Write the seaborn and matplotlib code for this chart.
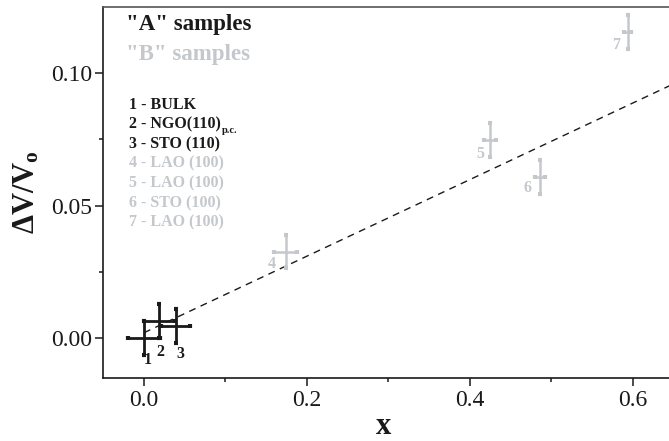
import matplotlib
matplotlib.use("Agg")
import matplotlib.pyplot as plt
import seaborn as sns
import pandas as pd

# Sample data: strain x and relative volume change with uncertainties
labels = ["1", "2", "3", "4", "5", "6", "7"]
groups = ["A", "A", "A", "B", "B", "B", "B"]
x_vals = [0.000, 0.019, 0.039, 0.174, 0.4245, 0.486, 0.5935]
y_vals = [0.0000, 0.0063, 0.0045, 0.0326, 0.0749, 0.0608, 0.1155]
x_err = [0.020, 0.019, 0.018, 0.014, 0.0078, 0.006, 0.004]
y_err = [0.0063, 0.0064, 0.0065, 0.0063, 0.0064, 0.0064, 0.0065]
substrates = ["BULK", "NGO(110)", "STO (110)",
              "LAO (100)", "LAO (100)", "STO (100)", "LAO (100)"]
substrate_sub = ["", "p.c.", "", "", "", "", ""]

# Linear trend line endpoints
fit_x = [0.0, 0.65]
fit_y = [0.002, 0.096]

x_ticks = [0.0, 0.2, 0.4, 0.6]
y_ticks = [0.00, 0.05, 0.10]

# label offsets (points) relative to each sample
label_dx = [3, 1, 3, -10, -7, -9, -8]
label_dy = [-16, -22, -20, -9, -10, -8, -9]

df = pd.DataFrame({"label": labels, "group": groups, "x": x_vals, "y": y_vals,
                   "xerr": x_err, "yerr": y_err})

sns.set_theme(style="ticks")
plt.rcParams["font.family"] = ["Liberation Serif", "DejaVu Serif"]
plt.rcParams["mathtext.fontset"] = "custom"
plt.rcParams["mathtext.rm"] = "Liberation Serif"
plt.rcParams["mathtext.bf"] = "Liberation Serif:bold"
plt.rcParams["mathtext.it"] = "Liberation Serif:italic"

BLACK = "#1a1a1a"
GRAY = "#c4c8cd"
colors = {"A": BLACK, "B": GRAY}

fig = plt.figure(figsize=(6.69, 4.41), dpi=100)
ax = fig.add_axes([103 / 669, 1 - 378 / 441, 1 - 103 / 669, (378 - 7) / 441])

sns.lineplot(x=fit_x, y=fit_y, ax=ax, color=BLACK, lw=1.0,
             linestyle=(0, (5, 4)), zorder=1)

for _, r in df.iterrows():
    c = colors[r["group"]]
    lw = 2.0 if r["group"] == "A" else 1.8
    ax.errorbar(r["x"], r["y"], xerr=r["xerr"], yerr=r["yerr"], fmt="none",
                ecolor=c, elinewidth=lw, capsize=1.2, capthick=3.0, zorder=3)

for i, r in df.iterrows():
    ax.annotate(r["label"], (r["x"], r["y"]), xytext=(label_dx[i], label_dy[i]),
                textcoords="offset points", ha="center", va="center",
                fontsize=11.5, fontweight="bold", color=colors[r["group"]])

ax.set_xlim(-0.0503, 0.6442)
ax.set_ylim(-0.0151, 0.1250)
ax.set_xticks(x_ticks)
ax.set_xticklabels([f"{v:.1f}" for v in x_ticks])
ax.set_yticks(y_ticks)
ax.set_yticklabels([f"{v:.2f}" for v in y_ticks])
ax.set_xticks([0.1, 0.3, 0.5], minor=True)
ax.set_yticks([0.025, 0.075], minor=True)
ax.tick_params(axis="both", which="major", length=5.5, width=1.1, labelsize=17,
               color=BLACK, labelcolor=BLACK, direction="out")
ax.tick_params(axis="x", which="major", pad=3.5)
ax.tick_params(axis="y", which="major", pad=2)
ax.tick_params(axis="both", which="minor", length=3.1, width=1.1, color=BLACK,
               direction="out")
ax.spines["right"].set_visible(False)
for s in ["left", "bottom", "top"]:
    ax.spines[s].set_linewidth(1.2)
    ax.spines[s].set_color(BLACK)
ax.spines["top"].set_color("#555555")

ax.set_xlabel("x", fontsize=22, fontweight="bold", color=BLACK)
ax.xaxis.label.set_va("center")
ax.xaxis.set_label_coords((383 - 103) / 566, (378 - 427) / 371)
ax.set_ylabel("ΔV/V$_{\\mathbf{o}}$", fontsize=22, fontweight="bold", color=BLACK)
ax.yaxis.label.set_va("center")
ax.yaxis.set_label_coords((27 - 103) / 566, (378 - 192) / 371)

# group headings and substrate list
fig.text(126 / 669, 1 - 30 / 441, '"A" samples', fontsize=16.5, fontweight="bold",
         color=BLACK, va="baseline")
fig.text(126 / 669, 1 - 60 / 441, '"B" samples', fontsize=16.5, fontweight="bold",
         color=GRAY, va="baseline")
for i, (lab, sub) in enumerate(zip(labels, substrates)):
    c = colors[groups[i]]
    t = fig.text(129 / 669, 1 - (109 + 19.6 * i) / 441, f"{lab} - {sub}",
                 fontsize=11.5, fontweight="bold", color=c, va="baseline")
    if substrate_sub[i]:
        # small subscript placed right after the substrate name
        ax.annotate(substrate_sub[i], xy=(1.0, 0.0), xycoords=t,
                    xytext=(0.5, -2.0), textcoords="offset points",
                    fontsize=7.5, fontweight="bold", color=c,
                    ha="left", va="bottom", annotation_clip=False)

fig.savefig("out.png", dpi=100)
